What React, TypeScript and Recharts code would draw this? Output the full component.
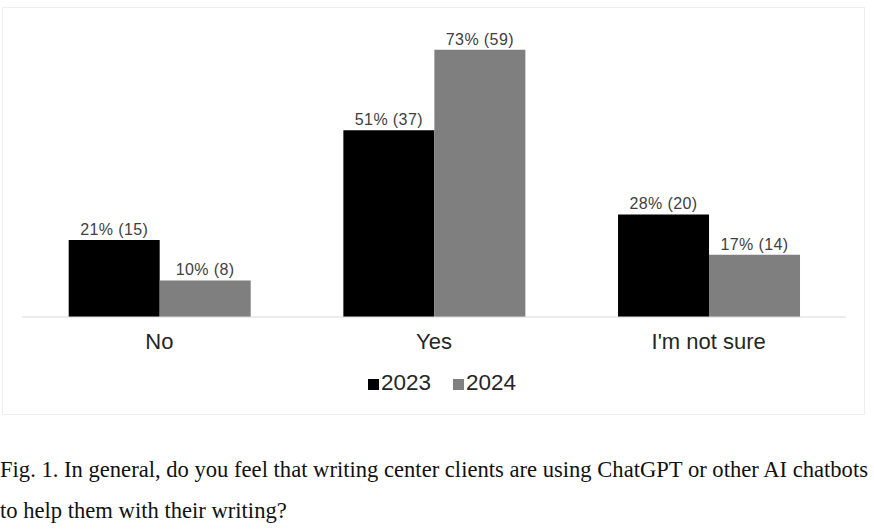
import React from "react";
import { BarChart, Bar, XAxis, YAxis, Legend, LabelList } from "recharts";

const categories = ["No", "Yes", "I'm not sure"];
const pct2023 = [21, 51, 28];
const count2023 = [15, 37, 20];
const pct2024 = [10, 73, 17];
const count2024 = [8, 59, 14];

const data = categories.map((name, i) => ({
  name,
  y2023: pct2023[i],
  n2023: count2023[i],
  y2024: pct2024[i],
  n2024: count2024[i],
}));

const sans = "'Liberation Sans', Arial, sans-serif";

const makeLabel = (counts: number[]) => (props: any) => {
  const { x, y, width, value, index } = props;
  return (
    <text
      x={x + width / 2}
      y={y - 5}
      textAnchor="middle"
      fill="#404040"
      fontSize={16}
      fontFamily={sans}
      letterSpacing={0.4}
    >
      {`${value}% (${counts[index]})`}
    </text>
  );
};

const LegendContent = () => (
  <div
    style={{
      height: 57,
      display: "flex",
      justifyContent: "center",
      alignItems: "flex-start",
      paddingTop: 13,
      paddingLeft: 16,
      boxSizing: "border-box",
      fontFamily: sans,
      fontSize: 22.5,
      color: "#262626",
    }}
  >
    {[
      { label: "2023", color: "#000000" },
      { label: "2024", color: "#7f7f7f" },
    ].map((it, i) => (
      <span
        key={it.label}
        style={{ display: "flex", alignItems: "center", marginLeft: i ? 22 : 0 }}
      >
        <span
          style={{
            width: 11,
            height: 11,
            background: it.color,
            display: "inline-block",
            marginRight: 2,
            marginTop: 3,
          }}
        />
        {it.label}
      </span>
    ))}
  </div>
);

export default function App() {
  return (
    <div style={{ position: "absolute", left: 0, top: 0, width: 874, height: 529, background: "#fff" }}>
      <div
        style={{
          position: "absolute",
          left: 2,
          top: 7,
          width: 863,
          height: 408,
          border: "1px solid #eeeeee",
          boxSizing: "border-box",
        }}
      >
        <BarChart
          width={861}
          height={406}
          data={data}
          margin={{ top: 16, right: 18, left: 19, bottom: 0 }}
          barCategoryGap="17%"
          barGap={0}
        >
          <XAxis
            dataKey="name"
            axisLine={{ stroke: "#d9d9d9" }}
            tickLine={false}
            tickSize={0}
            tickMargin={16}
            height={40}
            tick={{ fill: "#262626", fontSize: 22, fontFamily: sans }}
            interval={0}
          />
          <YAxis hide domain={[0, 80]} />
          <Legend verticalAlign="bottom" content={<LegendContent />} />
          <Bar dataKey="y2023" fill="#000000" isAnimationActive={false}>
            <LabelList dataKey="y2023" content={makeLabel(count2023)} />
          </Bar>
          <Bar dataKey="y2024" fill="#7f7f7f" isAnimationActive={false}>
            <LabelList dataKey="y2024" content={makeLabel(count2024)} />
          </Bar>
        </BarChart>
      </div>
      <div
        style={{
          position: "absolute",
          left: 0,
          top: 449,
          width: 874,
          fontFamily: "'Liberation Serif', 'Times New Roman', serif",
          fontSize: 22.6,
          lineHeight: "41px",
          color: "#111",
          whiteSpace: "nowrap",
        }}
      >
        <div>Fig. 1. In general, do you feel that writing center clients are using ChatGPT or other AI chatbots</div>
        <div>to help them with their writing?</div>
      </div>
    </div>
  );
}
